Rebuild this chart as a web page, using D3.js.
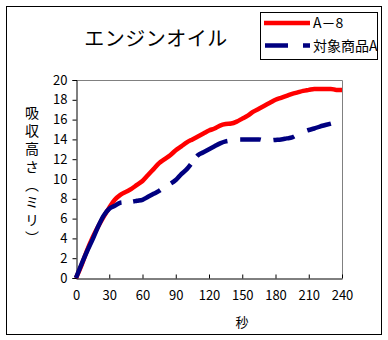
<!DOCTYPE html>
<html><head><meta charset="utf-8">
<script src="https://cdn.jsdelivr.net/npm/d3@7"></script>
<style>
html,body{margin:0;padding:0;background:#fff;}
svg text{font-family:"Noto Sans CJK JP","Noto Sans",sans-serif;fill:#000;}
</style></head>
<body>
<svg id="c" width="388" height="340"></svg>
<script>
const title = "エンジンオイル";
const yTitle = "吸収高さ（ミリ）";
const xTitle = "秒";
const seriesNames = ["A－8", "対象商品A"];
const xTicks = [0,30,60,90,120,150,180,210,240];
const yTicks = [0,2,4,6,8,10,12,14,16,18,20];

const redT = [0,5,10,15,20,25,30,35,40,45,50,55,60,65,70,75,80,85,90,95,100,105,110,115,120,125,130,135,140,145,150,155,160,165,170,175,180,185,190,195,200,205,210,215,220,225,230,235,240];
const redV = [0,1.3,2.8,4.1,5.2,6.2,7.1,7.9,8.4,8.7,9.0,9.4,9.8,10.4,11.0,11.6,12.0,12.4,12.9,13.3,13.7,14.0,14.3,14.6,14.9,15.1,15.4,15.55,15.6,15.8,16.1,16.4,16.8,17.1,17.4,17.7,18.0,18.2,18.4,18.6,18.75,18.9,19.0,19.1,19.1,19.1,19.1,19.0,19.0];
const blueT = [0,5,10,15,20,25,30,35,40,45,50,55,60,65,70,75,80,85,90,95,100,105,110,115,120,125,130,135,140,145,150,155,160,165,170,175,180,185,190,195,200,205,210,215,220,225,230];
const blueV = [0,1.4,2.7,3.9,5.2,6.3,7.0,7.3,7.6,7.65,7.7,7.8,7.9,8.2,8.5,8.8,9.2,9.5,9.9,10.5,11.0,11.7,12.4,12.7,13.0,13.3,13.6,13.8,13.9,14.0,14.0,14.0,14.0,14.0,13.9,13.9,13.95,14.0,14.1,14.2,14.5,14.75,14.95,15.1,15.3,15.45,15.6];
// dash gaps (in seconds) seen on the dashed series
const blueGaps = [[41,51.5],[76,85.7],[103.5,109],[136.5,148],[166.6,178],[196.8,208.5]];

const svg = d3.select("#c");
const W=388,H=340;
// outer frame
svg.append("rect").attr("x",6.5).attr("y",6.5).attr("width",375).attr("height",328)
  .attr("fill","#fff").attr("stroke","#000").attr("stroke-width",1);

const L=76,R=342,T=80,B=278;
const x = d3.scaleLinear().domain([0,240]).range([L,R]);
const y = d3.scaleLinear().domain([0,20]).range([B,T]);

// plot frame top/right gray
svg.append("path").attr("d",`M${L},${T+0.5}H${R+0.5}V${B}`).attr("fill","none").attr("stroke","#808080");

// y axis
const ya = svg.append("g").attr("transform",`translate(${L+0.5},0)`)
  .call(d3.axisLeft(y).tickValues(yTicks).tickSize(4).tickPadding(5));
ya.select(".domain").attr("stroke","#000");
ya.selectAll("line").attr("stroke","#000");
ya.selectAll("text").attr("font-size",13).attr("fill","#000");

// x axis with inward ticks
const xa = svg.append("g").attr("transform",`translate(0,${B+0.5})`)
  .call(d3.axisBottom(x).tickValues(xTicks).tickSizeInner(-4).tickSizeOuter(0).tickPadding(12));
xa.select(".domain").attr("stroke","#000");
xa.selectAll("line").attr("stroke","#000");
xa.selectAll("text").attr("font-size",13).attr("fill","#000");

// lines
const line = d3.line().curve(d3.curveMonotoneX);
const redPts = redT.map((t,i)=>[x(t),y(redV[i])]);
const bluePts = blueT.map((t,i)=>[x(t),y(blueV[i])]);

svg.append("path").attr("d",line(redPts)).attr("fill","none")
  .attr("stroke","#ff0000").attr("stroke-width",4.5);

const bp = svg.append("path").attr("d",line(bluePts)).attr("fill","none")
  .attr("stroke","#000080").attr("stroke-width",4.5);
const node = bp.node();
const total = node.getTotalLength();
function lenAtX(px){
  let lo=0,hi=total;
  for(let k=0;k<40;k++){const m=(lo+hi)/2; if(node.getPointAtLength(m).x<px) lo=m; else hi=m;}
  return (lo+hi)/2;
}
const dash=[]; let pos=0;
blueGaps.forEach(g=>{const a=lenAtX(x(g[0])), b=lenAtX(x(g[1])); dash.push(a-pos, b-a); pos=b;});
dash.push(total-pos+2, 0);
bp.attr("stroke-dasharray",dash.join(","));

// title
svg.append("text").attr("x",156).attr("y",46).attr("text-anchor","middle")
  .attr("font-size",20).attr("letter-spacing",0.5).text(title);

// x title
svg.append("text").attr("x",242).attr("y",327).attr("text-anchor","middle").attr("font-size",13).text(xTitle);

// y title vertical
const chars = Array.from(yTitle);
chars.forEach((ch,i)=>{
  svg.append("text").attr("x",32).attr("y",113+i*17.8).attr("text-anchor","middle")
    .attr("dominant-baseline","central").attr("font-size",14)
    .style("writing-mode","vertical-rl").text(ch);
});

// legend
svg.append("rect").attr("x",260.5).attr("y",12.5).attr("width",117).attr("height",47)
  .attr("fill","#fff").attr("stroke","#000");
svg.append("line").attr("x1",264).attr("x2",310).attr("y1",23).attr("y2",23)
  .attr("stroke","#ff0000").attr("stroke-width",4.5);
svg.append("line").attr("x1",265).attr("x2",310).attr("y1",45.5).attr("y2",45.5)
  .attr("stroke","#000080").attr("stroke-width",4.5).attr("stroke-dasharray","23,15,7");
svg.append("text").attr("x",313).attr("y",28).attr("font-size",14).text(seriesNames[0]);
svg.append("text").attr("x",313).attr("y",51).attr("font-size",14).text(seriesNames[1]);
</script>
</body></html>
